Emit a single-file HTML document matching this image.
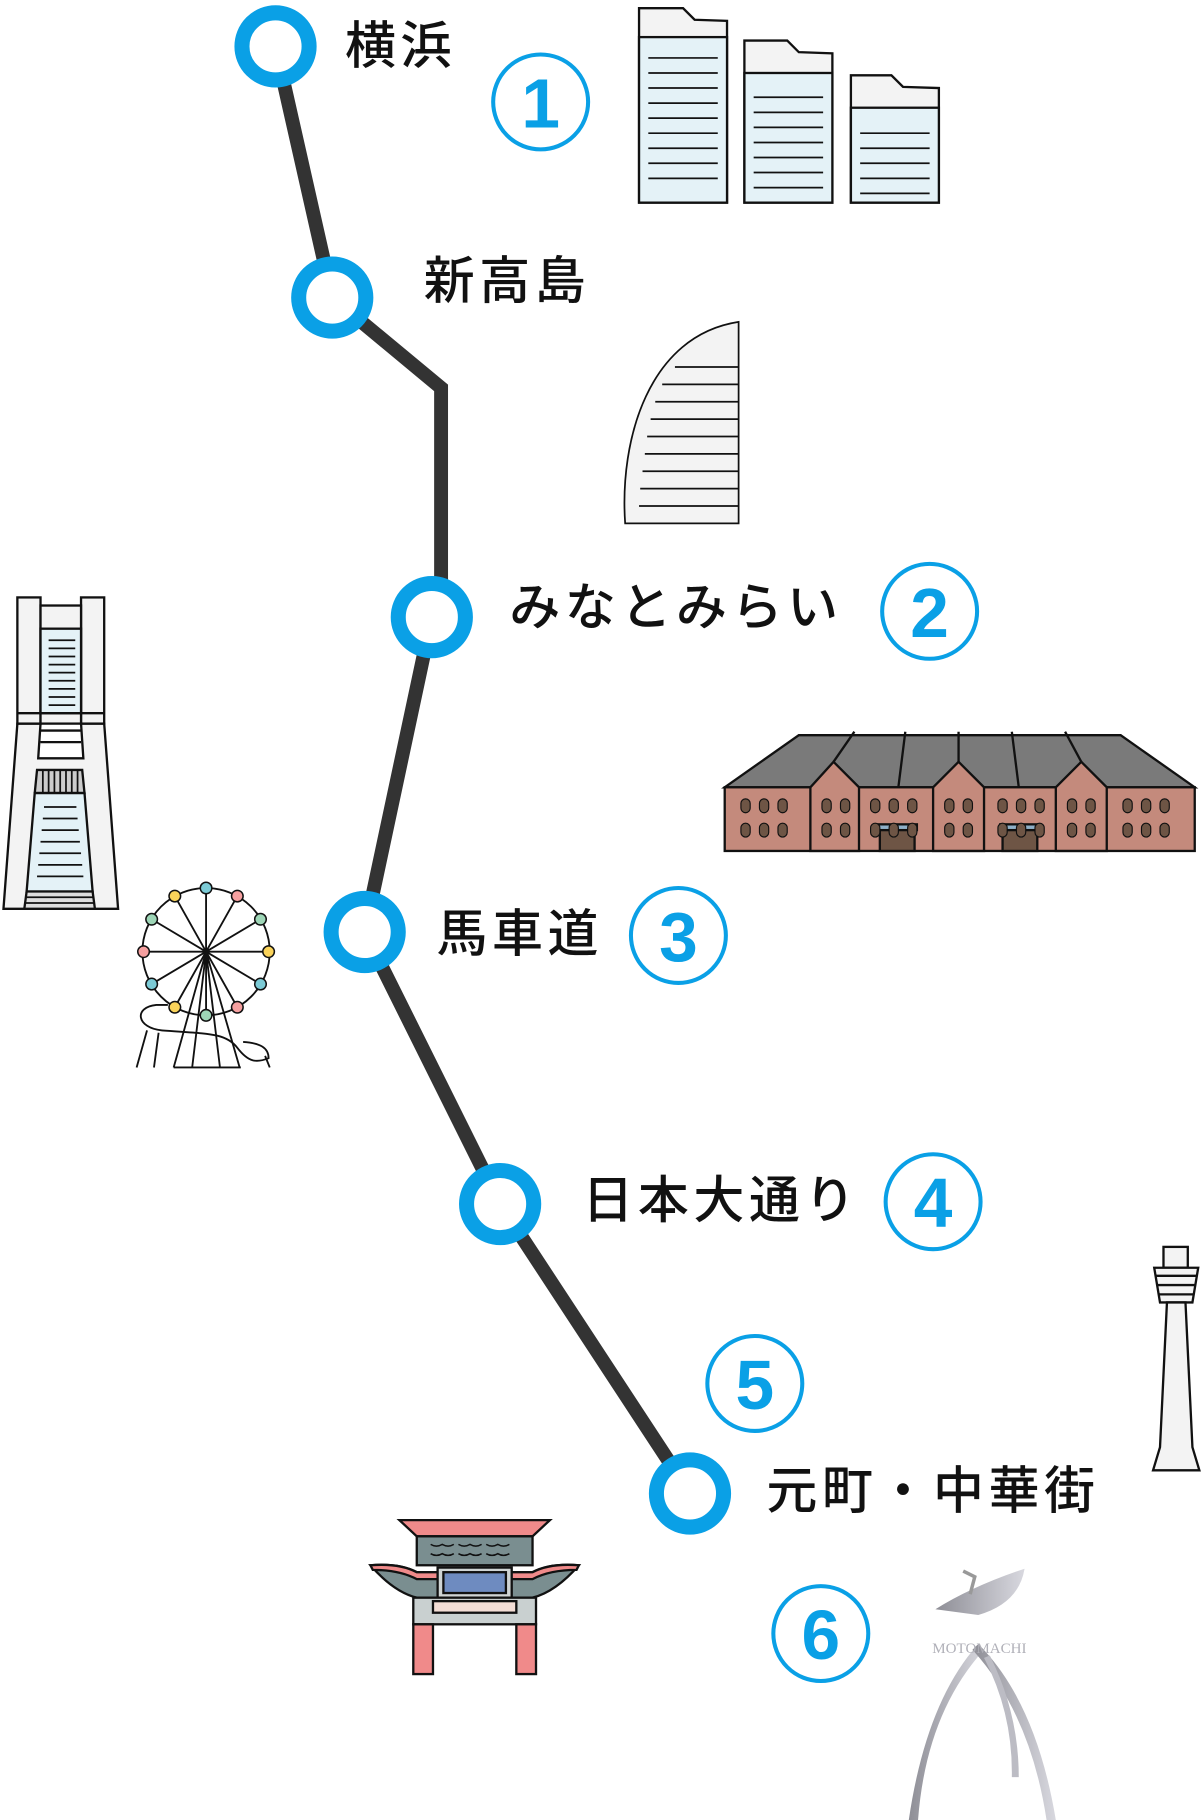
<!DOCTYPE html>
<html><head><meta charset="utf-8"><style>
html,body{margin:0;padding:0;background:#fff;}
svg{display:block}
text{font-family:"Liberation Sans","Noto Sans CJK JP",sans-serif;}
.lb{font-size:44px;font-weight:500;fill:#111;letter-spacing:4px;}
.nm{font-size:60px;font-weight:700;fill:#0aa0e6;text-anchor:middle;}
.nc{fill:none;stroke:#0aa0e6;stroke-width:3.5;}
.k{stroke:#111;stroke-width:2;}
</style></head><body>
<svg width="1204" height="1820" viewBox="0 0 1040 1572" xmlns="http://www.w3.org/2000/svg">
<polyline points="238,40 287,257 381,335 381,500 373,533 315,805 432,1040 596,1290" fill="none" stroke="#333" stroke-width="12" stroke-linejoin="miter"/>
<g fill="#fff" stroke="#0aa0e6" stroke-width="13">
<circle cx="238" cy="40" r="29"/>
<circle cx="287" cy="257" r="29"/>
<circle cx="373" cy="533" r="29"/>
<circle cx="315" cy="805" r="29"/>
<circle cx="432" cy="1040" r="29"/>
<circle cx="596" cy="1290" r="29"/>
</g>
<text class="lb" x="298" y="55">横浜</text>
<text class="lb" x="366" y="258">新高島</text>
<text class="lb" x="440" y="540" letter-spacing="6">みなとみらい</text>
<text class="lb" x="377" y="822">馬車道</text>
<text class="lb" x="503" y="1052">日本大通り</text>
<text class="lb" x="662" y="1303">元町・中華街</text>
<g>
<circle class="nc" cx="467" cy="88" r="41"/><text class="nm" x="467" y="110">1</text>
<circle class="nc" cx="803" cy="528" r="41"/><text class="nm" x="803" y="550">2</text>
<circle class="nc" cx="586" cy="808" r="41"/><text class="nm" x="586" y="830">3</text>
<circle class="nc" cx="806" cy="1038" r="41"/><text class="nm" x="806" y="1060">4</text>
<circle class="nc" cx="652" cy="1195" r="41"/><text class="nm" x="652" y="1217">5</text>
<circle class="nc" cx="709" cy="1411" r="41"/><text class="nm" x="709" y="1433">6</text>
</g>
<g class="k" stroke-width="1.5">
<path d="M552,7 L590,7 L600,17 L628,18 L628,175 L552,175 Z" fill="#f3f3f3"/>
<rect x="552" y="32" width="76" height="143" fill="#e4f2f7"/>
<path d="M643,35 L680,35 L690,45 L719,46 L719,175 L643,175 Z" fill="#f3f3f3"/>
<rect x="643" y="63" width="76" height="112" fill="#e4f2f7"/>
<path d="M735,65 L770,65 L780,75 L811,76 L811,175 L735,175 Z" fill="#f3f3f3"/>
<rect x="735" y="93" width="76" height="82" fill="#e4f2f7"/>
</g>
<g stroke="#111" stroke-width="1.5">
<path d="M560,50H620M560,63H620M560,76H620M560,89H620M560,102H620M560,115H620M560,128H620M560,141H620M560,154H620"/>
<path d="M651,84H711M651,97H711M651,110H711M651,123H711M651,136H711M651,149H711M651,162H711"/>
<path d="M743,115H803M743,128H803M743,141H803M743,154H803M743,167H803"/>
</g>
<path d="M638,278 L638,452 L540,452 C535,380 560,290 638,278 Z" fill="#f3f3f3" stroke="#111" stroke-width="1.5"/>
<path d="M583,317H638M572,332H638M566,347H638M562,362H638M559,377H638M557,392H638M555,407H638M553,422H638M552,437H638" stroke="#111" stroke-width="1.5"/>
<g class="k" stroke-width="1.6">
<path d="M3,785 L15,625 L35,625 L33,655 L72,655 L70,625 L90,625 L102,785 Z" fill="#f3f3f3"/>
<rect x="15" y="516" width="20" height="109" fill="#f3f3f3"/>
<rect x="70" y="516" width="20" height="109" fill="#f3f3f3"/>
<rect x="35" y="523" width="35" height="102" fill="#f3f3f3"/>
<rect x="35" y="543" width="35" height="73" fill="#e4f2f7"/>
<line x1="15" y1="616" x2="90" y2="616"/>
<line x1="35" y1="631" x2="70" y2="631"/><line x1="35" y1="641" x2="70" y2="641"/>
<path d="M32,665 L71,665 L73,685 L30,685 Z" fill="#ccc"/>
<path d="M30,685 L73,685 L80,770 L23,770 Z" fill="#e4f2f7"/>
<path d="M23,770 L80,770 L82,785 L21,785 Z" fill="#ddd"/>
</g>
<g stroke="#111" stroke-width="1.5">
<path d="M42,553H65M42,560H65M42,567H65M42,574H65M42,581H65M42,588H65M42,595H65M42,602H65M42,609H65"/>
<path d="M37,665V685M42,665V685M47,665V685M52,665V685M57,665V685M62,665V685M67,665V685"/>
<path d="M38,697H66M37,707H67M36,717H68M35,727H69M34,737H70M33,747H71M32,757H72"/>
<path d="M23,775H81M22,780H82"/>
</g>
<g stroke="#111" stroke-width="1.6" fill="none">
<circle cx="178" cy="822" r="55"/>
<path d="M178,822L178,767M178,822L205,774M178,822L225,794M178,822L232,822M178,822L225,850M178,822L205,870M178,822L178,877M178,822L151,870M178,822L131,850M178,822L124,822M178,822L131,794M178,822L151,774"/>
<path d="M178,822L150,922M178,822L166,922M178,822L190,922M178,822L207,922M150,922H208"/>
<path d="M145,868 H135 C115,870 118,888 140,890 C180,893 195,892 205,905 C215,918 222,918 232,914 C232,905 225,901 210,900"/>
<path d="M127,890L118,922M137,892L133,922M229,912L233,922"/>
</g>
<g stroke="#111" stroke-width="1.3">
<circle cx="178" cy="767" r="5" fill="#7ccbd6"/><circle cx="205" cy="774" r="5" fill="#f6a0a0"/>
<circle cx="225" cy="794" r="5" fill="#9ed6b7"/><circle cx="232" cy="822" r="5" fill="#fad35a"/>
<circle cx="225" cy="850" r="5" fill="#7ccbd6"/><circle cx="205" cy="870" r="5" fill="#f6a0a0"/>
<circle cx="178" cy="877" r="5" fill="#9ed6b7"/><circle cx="151" cy="870" r="5" fill="#fad35a"/>
<circle cx="131" cy="850" r="5" fill="#7ccbd6"/><circle cx="124" cy="822" r="5" fill="#f6a0a0"/>
<circle cx="131" cy="794" r="5" fill="#9ed6b7"/><circle cx="151" cy="774" r="5" fill="#fad35a"/>
</g>
<g class="k" stroke-width="1.5">
<path d="M626,680 L690,635 L968,635 L1032,680 Z" fill="#7a7a7a"/>
<rect x="626" y="680" width="406" height="55" fill="#c48a7c"/>
<path d="M700,680 L720,658 L742,680 V735 H700 Z" fill="#c48a7c"/>
<path d="M806,680 L828,658 L850,680 V735 H806 Z" fill="#c48a7c"/>
<path d="M912,680 L934,658 L956,680 V735 H912 Z" fill="#c48a7c"/>
<path d="M720,658 L738,632 M782,632 L776,680 M828,658 L828,632 M874,632 L880,680 M934,658 L920,632"/>
<rect x="760" y="713" width="30" height="22" fill="#6e5545"/><rect x="758" y="712" width="34" height="5" fill="#8fb0c8"/>
<rect x="866" y="713" width="30" height="22" fill="#6e5545"/><rect x="864" y="712" width="34" height="5" fill="#8fb0c8"/>
</g>
<g fill="#6e5545" stroke="#111" stroke-width="1">
<g id="w"><rect x="640" y="690" width="8" height="12" rx="4"/><rect x="640" y="711" width="8" height="12" rx="4"/></g>
<use href="#w" x="16"/><use href="#w" x="32"/><use href="#w" x="70"/><use href="#w" x="86"/>
<use href="#w" x="112"/><use href="#w" x="128"/><use href="#w" x="144"/><use href="#w" x="176"/><use href="#w" x="192"/>
<use href="#w" x="222"/><use href="#w" x="238"/><use href="#w" x="254"/><use href="#w" x="282"/><use href="#w" x="298"/>
<use href="#w" x="330"/><use href="#w" x="346"/><use href="#w" x="362"/>
</g>
<g class="k" stroke-width="1.4" fill="#f3f3f3">
<rect x="1005" y="1077" width="21" height="18"/>
<path d="M997,1095 H1035 L1030,1125 H1002 Z"/>
<path d="M1008,1125 H1024 L1030,1250 L1036,1270 H996 L1002,1250 Z"/>
<path d="M998,1102H1034M999,1110H1033M1001,1118H1031" fill="none"/>
</g>
<g class="k" stroke-width="1.5">
<path d="M345,1313 H475 L460,1327 H360 Z" fill="#f08a8a"/>
<rect x="360" y="1327" width="100" height="25" fill="#7a8e90"/>
<path d="M320,1352 Q345,1350 360,1358 H460 Q475,1350 500,1352 Q480,1375 460,1380 H360 Q340,1375 320,1352 Z" fill="#7a8e90"/>
<path d="M320,1352 Q345,1350 360,1358 H460 Q475,1350 500,1352 L498,1356 Q475,1356 460,1364 H360 Q345,1356 322,1356 Z" fill="#f08a8a"/>
<rect x="378" y="1354" width="64" height="26" fill="#cfd4d4"/>
<rect x="383" y="1358" width="54" height="18" fill="#6e8bc0"/>
<rect x="357" y="1380" width="106" height="23" fill="#c9d0d0"/>
<rect x="374" y="1383" width="72" height="10" fill="#f3ddd5"/>
<rect x="357" y="1403" width="17" height="43" fill="#f08a8a"/>
<rect x="446" y="1403" width="17" height="43" fill="#f08a8a"/>
</g>
<g stroke="#111" stroke-width="1.3" fill="none">
<path d="M372,1334q5,3 10,0q5,3 10,0M396,1334q5,3 10,0q5,3 10,0M420,1334q5,3 10,0q5,3 10,0"/>
<path d="M372,1342q5,3 10,0q5,3 10,0M396,1342q5,3 10,0q5,3 10,0M420,1342q5,3 10,0q5,3 10,0"/>
</g>
<defs><linearGradient id="g" x1="0" x2="1"><stop offset="0" stop-color="#8e8e96"/><stop offset="1" stop-color="#d8d8df"/></linearGradient></defs>
<path d="M808,1390 Q840,1370 885,1355 Q880,1385 845,1395 Z" fill="url(#g)"/>
<path d="M832,1357 l10,5 l-4,15" stroke="#999" stroke-width="3" fill="none"/>
<path d="M845,1420 Q800,1470 785,1572 H793 Q800,1480 850,1425 Z" fill="url(#g)"/>
<path d="M845,1420 Q895,1470 912,1572 H904 Q890,1480 840,1425 Z" fill="url(#g)"/>
<path d="M855,1430 Q880,1480 880,1535 H874 Q875,1480 850,1432 Z" fill="#bcbcc4"/>
<text x="846" y="1428" font-size="13" fill="#b0b0b8" text-anchor="middle" style="font-family:'Liberation Serif',serif">MOTOMACHI</text>
</svg>
</body></html>
